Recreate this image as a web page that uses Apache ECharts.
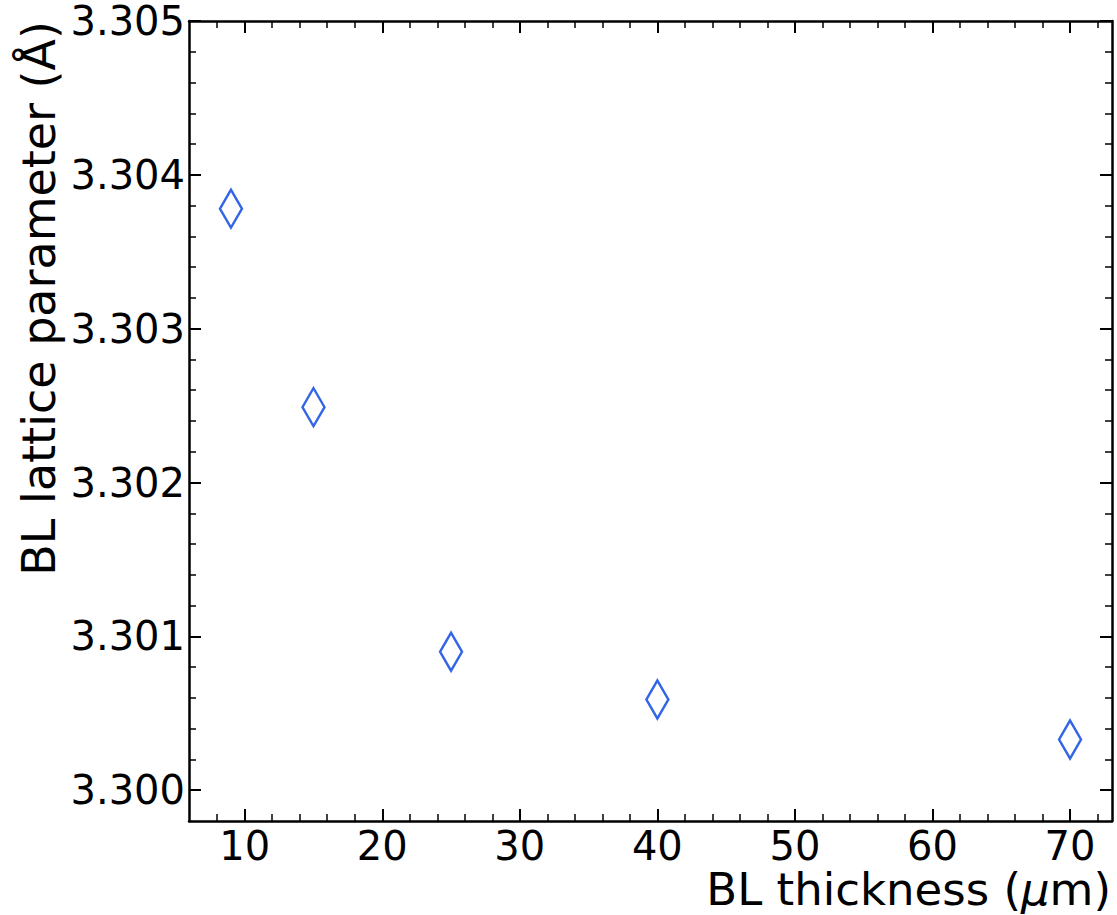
<!DOCTYPE html>
<html>
<head>
<meta charset="utf-8">
<title>BL lattice parameter</title>
<script src="https://cdn.jsdelivr.net/npm/echarts@6/dist/echarts.min.js"></script>
<style>
    html, body { margin: 0; padding: 0; background: #fff; }
    #main { width: 1117px; height: 915px; }
</style>
</head>
<body>
<div id="main"></div>
<script>
// data
var thickness = [9, 15, 25, 40, 70];
var latticeParam = [3.30378, 3.30249, 3.30090, 3.30059, 3.30033];

// tick positions
var xMajor = [10, 20, 30, 40, 50, 60, 70];
var xMinor = [8, 12, 14, 16, 18, 22, 24, 26, 28, 32, 34, 36, 38, 42, 44, 46, 48, 52, 54, 56, 58, 62, 64, 66, 68, 72];
var yMajor = [3.300, 3.301, 3.302, 3.303, 3.304, 3.305];
var yMinor = [3.3002, 3.3004, 3.3006, 3.3008, 3.3012, 3.3014, 3.3016, 3.3018,
    3.3022, 3.3024, 3.3026, 3.3028, 3.3032, 3.3034, 3.3036, 3.3038,
    3.3042, 3.3044, 3.3046, 3.3048];

var xRange = [5.95, 73.05];
var yRange = [3.2998, 3.305];

var FONT = 'DejaVu Sans';

function makeAxis(pos, range, ticks, len, width, showLine, labels) {
    return {
        type: 'value',
        position: pos,
        min: range[0],
        max: range[1],
        scale: true,
        splitLine: {show: false},
        axisLine: {show: showLine, onZero: false, lineStyle: {color: '#000', width: 2.5}},
        axisTick: {
            show: true,
            inside: true,
            length: len,
            customValues: ticks,
            lineStyle: {color: '#000', width: width}
        },
        axisLabel: labels || {show: false}
    };
}

var chart = echarts.init(document.getElementById('main'), null, {renderer: 'svg'});

var option = {
    animation: false,
    backgroundColor: '#fff',
    grid: {left: 189, right: 5, top: 21, bottom: 94, outerBoundsMode: 'none'},
    xAxis: [
        makeAxis('bottom', xRange, xMajor, 12, 2, true, {
            show: true,
            customValues: xMajor,
            margin: 5,
            color: '#000',
            fontSize: 40,
            lineHeight: 40,
            fontFamily: FONT
        }),
        makeAxis('top', xRange, xMajor, 12, 2, true),
        makeAxis('bottom', xRange, xMinor, 7, 1.5, false),
        makeAxis('top', xRange, xMinor, 7, 1.5, false)
    ],
    yAxis: [
        makeAxis('left', yRange, yMajor, 12, 2, true, {
            show: true,
            customValues: yMajor,
            margin: 4,
            color: '#000',
            fontSize: 40,
            fontFamily: FONT,
            formatter: function (v) { return v.toFixed(3); }
        }),
        makeAxis('right', yRange, yMajor, 12, 2, true),
        makeAxis('left', yRange, yMinor, 7, 1.5, false),
        makeAxis('right', yRange, yMinor, 7, 1.5, false)
    ],
    graphic: [
        {
            type: 'text',
            x: 1111,
            y: 911,
            style: {
                text: 'BL thickness ({i|μ}m)',
                align: 'right',
                verticalAlign: 'bottom',
                fill: '#000',
                fontSize: 45,
                lineHeight: 44,
                fontFamily: FONT,
                rich: {i: {fontStyle: 'italic', fontSize: 45, lineHeight: 44, fontFamily: FONT}}
            }
        },
        {
            type: 'text',
            x: 39,
            y: 21,
            rotation: Math.PI / 2,
            style: {
                text: 'BL lattice parameter (Å)',
                align: 'right',
                verticalAlign: 'middle',
                fill: '#000',
                fontSize: 46,
                fontFamily: FONT
            }
        }
    ],
    series: [{
        type: 'scatter',
        xAxisIndex: 0,
        yAxisIndex: 0,
        data: thickness.map(function (t, i) { return [t, latticeParam[i]]; }),
        symbol: 'path://M0,-19L11,0L0,19L-11,0Z',
        symbolSize: [22, 38],
        itemStyle: {color: 'rgba(255,255,255,0)', borderColor: '#0040e0', borderWidth: 2.6}
    }]
};

chart.setOption(option);
</script>
</body>
</html>
